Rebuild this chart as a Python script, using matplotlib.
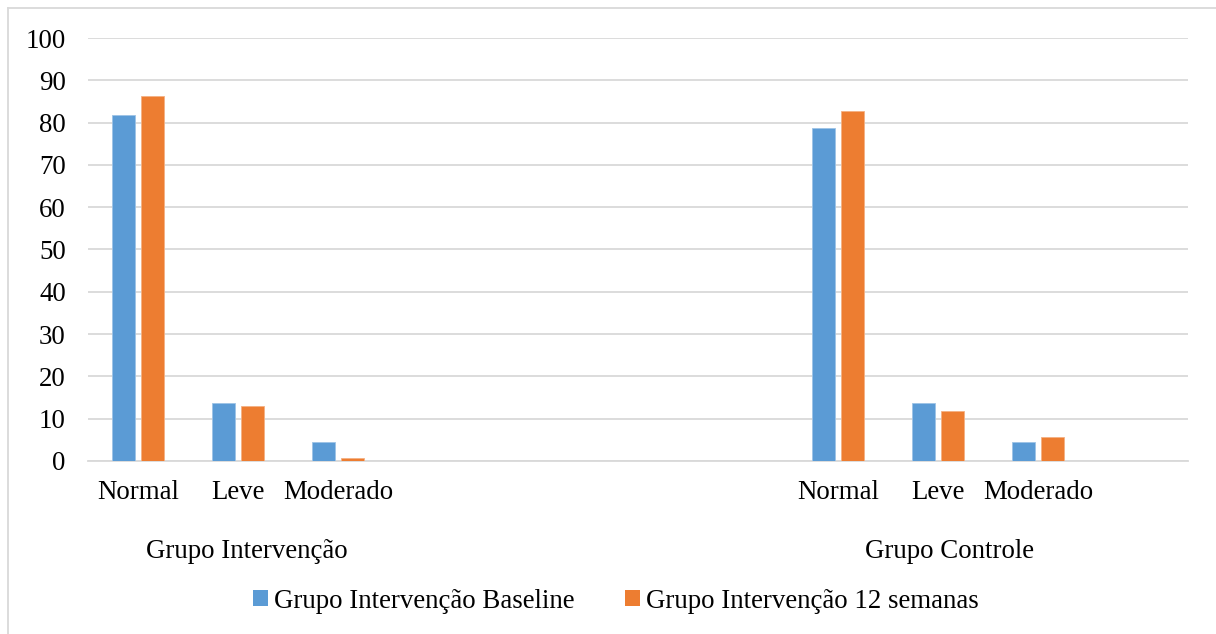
import matplotlib
matplotlib.use('Agg')
import matplotlib.pyplot as plt
from matplotlib.patches import Patch
from matplotlib.lines import Line2D
import numpy as np

plt.rcParams['font.family'] = ['Liberation Serif', 'DejaVu Serif']

# Category slots (Excel style, with empty slots between the two groups)
categories = ["Normal", "Leve", "Moderado", "", "", "", "", "Normal", "Leve", "Moderado", ""]
baseline = [81.9, 13.6, 4.5, 0, 0, 0, 0, 78.7, 13.6, 4.5, 0]
semanas12 = [86.4, 13.0, 0.7, 0, 0, 0, 0, 82.7, 11.9, 5.6, 0]
series_names = ["Grupo Intervenção Baseline", "Grupo Intervenção 12 semanas"]
group_names = ["Grupo Intervenção", "Grupo Controle"]
group_centers = [1.09, 8.12]  # in category-slot units

blue = "#5b9bd5"
orange = "#ed7d31"
grid_c = "#d9d9d9"

W, H = 1216, 634
fig = plt.figure(figsize=(W / 100, H / 100), dpi=100)
ax = fig.add_axes([88 / W, 1 - 461 / H, 1100 / W, 423 / H])

x = np.arange(len(categories))
bw = 0.227
off = 0.142
ax.bar(x - off, baseline, width=bw, color=blue, edgecolor='#9dc3e6', linewidth=0.6, zorder=3)
ax.bar(x + off, semanas12, width=bw, color=orange, edgecolor='#f4b183', linewidth=0.6, zorder=3)

ax.set_xlim(-0.5, len(categories) - 0.5)
ax.set_ylim(0, 100)
ax.set_yticks(np.arange(0, 101, 10))
ax.yaxis.grid(True, color=grid_c, linewidth=1.3, zorder=0)
ax.set_axisbelow(True)
for s in ['top', 'right', 'left']:
    ax.spines[s].set_visible(False)
ax.spines['bottom'].set_color(grid_c)
ax.spines['bottom'].set_linewidth(1.3)
ax.tick_params(axis='y', length=0, pad=16, labelsize=19.4)
ax.tick_params(axis='x', length=0, pad=14, labelsize=19.4)
ax.set_xticks(x)
ax.set_xticklabels(categories)

for name, cx in zip(group_names, group_centers):
    ax.text(cx, -21.5, name, ha='center', va='center', fontsize=19.4)

handles = [Patch(facecolor=blue), Patch(facecolor=orange)]
fig.legend(handles, series_names, loc='center', bbox_to_anchor=(0.5 + 8 / W, 1 - 601 / H),
           ncol=2, frameon=False, fontsize=19.4, handlelength=0.55, handleheight=0.55,
           handletextpad=0.25, columnspacing=1.85)

# outer chart border (left and top visible)
fig.add_artist(Line2D([8 / W, 8 / W], [0, 1 - 8 / H], color=grid_c, linewidth=1.3))
fig.add_artist(Line2D([8 / W, 1], [1 - 8 / H, 1 - 8 / H], color=grid_c, linewidth=1.3))

fig.savefig("out.png", dpi=100)
